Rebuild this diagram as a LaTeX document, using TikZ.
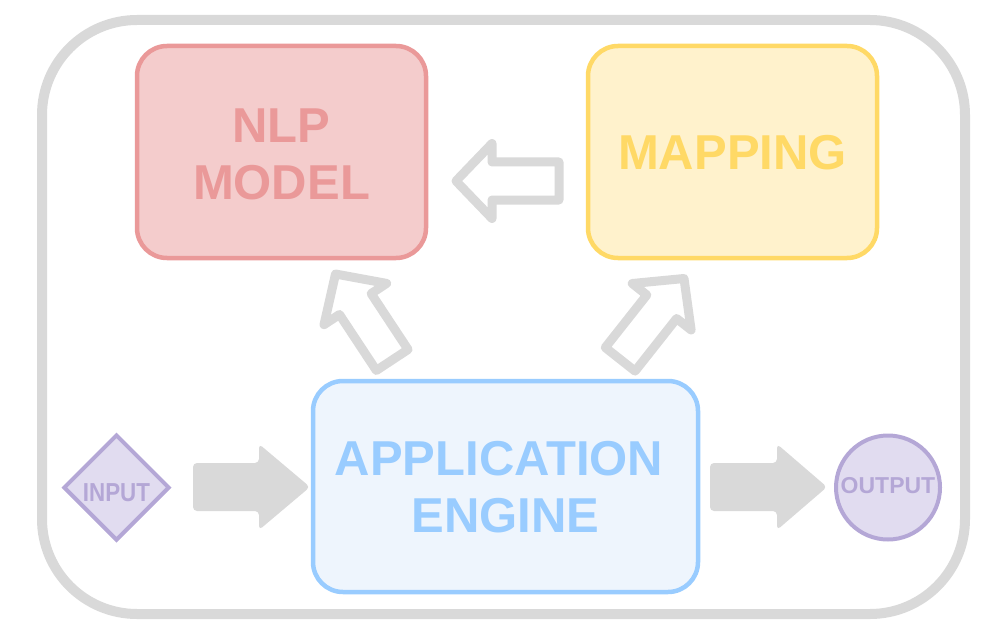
\documentclass[tikz,border=0pt]{standalone}
\usepackage{fontspec}
\setmainfont{Liberation Sans}
\usetikzlibrary{shapes.geometric}
\definecolor{frame}{HTML}{D9D9D9}
\definecolor{nlpfill}{HTML}{F4CCCC}
\definecolor{nlpdraw}{HTML}{EA9999}
\definecolor{mapfill}{HTML}{FFF2CC}
\definecolor{mapdraw}{HTML}{FFD966}
\definecolor{appfill}{HTML}{EEF5FD}
\definecolor{appdraw}{HTML}{99CCFF}
\definecolor{iofill}{HTML}{E1DCF0}
\definecolor{iodraw}{HTML}{B4A7D6}
\tikzset{
  bigbox/.style={rectangle, rounded corners=30pt, line width=4.5pt, inner sep=0pt},
  bigtext/.style={align=center, inner sep=0pt, font=\fontsize{49}{57}\selectfont\bfseries},
  iobox/.style={line width=4pt, fill=iofill, draw=iodraw, text=iodraw, inner sep=0pt},
  hollowline/.style={draw=frame, fill=white, line width=9pt, line join=round},
  solidarrow/.style={fill=frame, rounded corners=4pt},
  hollowarrow/.pic={\path[hollowline] (0,0) -- (-36,37.5) -- (-36,19) -- (-103,19) -- (-103,-19) -- (-36,-19) -- (-36,-37.5) -- cycle;}
}
\begin{document}
\begin{tikzpicture}[x=1pt,y=-1pt]
\useasboundingbox (0,0) rectangle (984,631);
\draw[frame, line width=10pt, rounded corners=95pt] (42,20) rectangle (965,614);

\node[bigbox, fill=nlpfill, draw=nlpdraw, minimum width=289pt, minimum height=212pt] (nlp) at (281.5,152) {};
\node[bigtext, text=nlpdraw, yshift=-2pt] (nlptext) at (nlp.center) {NLP\\MODEL};
\node[bigbox, fill=mapfill, draw=mapdraw, minimum width=289pt, minimum height=212pt] (map) at (732.5,152) {};
\node[bigtext, text=mapdraw, yshift=-1pt] (maptext) at (map.center) {MAPPING};
\node[bigbox, fill=appfill, draw=appdraw, minimum width=385pt, minimum height=211pt] (app) at (505.5,486.5) {};
\node[bigtext, text=appdraw, yshift=-1pt] (apptext) at (app.center) {APPLICATION\hspace*{13pt}\\ENGINE};

\node[iobox, diamond, aspect=1, minimum width=106pt, minimum height=106pt] (in) at (116.5,487.5) {};
\node[text=iodraw, inner sep=0pt, font=\fontsize{26}{30}\selectfont\bfseries, yshift=-5pt] (intext) at (in.center) {\scalebox{0.86}[1]{INPUT}};
\node[iobox, circle, minimum size=104pt] (out) at (888,487.5) {};
\node[text=iodraw, inner sep=0pt, font=\fontsize{23}{27}\selectfont\bfseries, yshift=2pt] (outtext) at (out.center) {OUTPUT};

% solid arrows
\coordinate (a1) at (193,463);
\path[solidarrow] (a1) -- (259,463) -- (259,444) -- (310,487) -- (259,530) -- (259,511) -- (193,511) -- cycle;
\coordinate (a2) at (710,463);
\path[solidarrow] (a2) -- (777,463) -- (777,444) -- (827,487) -- (777,530) -- (777,511) -- (710,511) -- cycle;

% hollow arrows
\pic[rotate=180] at (456,181) {hollowarrow};
\pic[rotate=123.4] at (335.5,274) {hollowarrow};
\pic[rotate=51.7] at (684,278.5) {hollowarrow};
\end{tikzpicture}
\end{document}
